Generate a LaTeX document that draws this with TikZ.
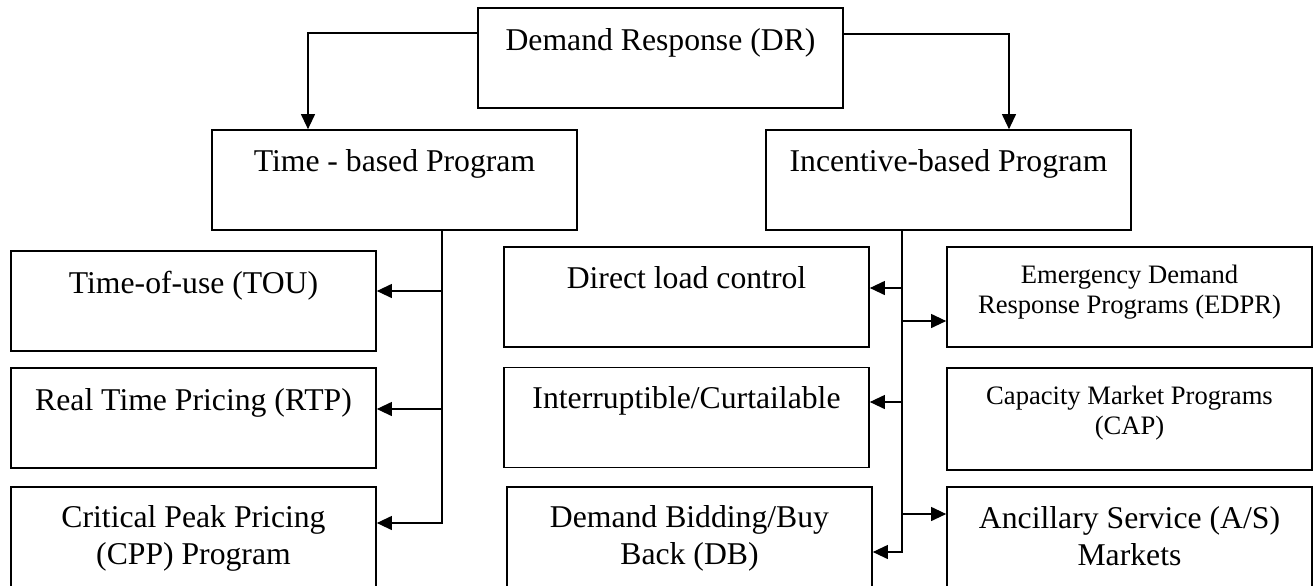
\documentclass[tikz,border=0pt]{standalone}
\usepackage{fontspec}
\setmainfont{Liberation Serif}
\usetikzlibrary{arrows.meta}
\tikzset{
  box/.style={draw=black, line width=0.85pt, inner sep=0pt, minimum width=182.5pt, minimum height=50pt},
  bigtxt/.style={anchor=base, inner sep=0pt, align=center, font=\fontsize{15.85}{18.5}\selectfont},
  smalltxt/.style={anchor=base, inner sep=0pt, align=center, font=\fontsize{13.3}{15}\selectfont},
  conn/.style={draw=black, line width=0.7pt},
  arr/.style={draw=black, line width=0.55pt, -{Triangle[length=7.5pt,width=7pt]}},
}
\begin{document}
\begin{tikzpicture}[x=0.5pt,y=-0.5pt]
\useasboundingbox (0,0) rectangle (1314,585);
\clip (0,0) rectangle (1314,585);
% boxes
\node[box] (DR) at (660.5,58) {};
\node[box] (Time) at (394.5,180) {};
\node[box] (Inc) at (948.5,180) {};
\node[box] (L1) at (193.5,301) {};
\node[box] (L2) at (193.5,418) {};
\node[box, minimum height=52pt] (L3) at (193.5,539) {};
\node[box] (M1) at (686.5,297) {};
\node[box] (M2) at (686.5,417.5) {};
\node[box, minimum height=52pt] (M3) at (689.5,539) {};
\node[box] (R1) at (1129.5,297) {};
\node[box, minimum height=51pt] (R2) at (1129.5,419) {};
\node[box, minimum height=52pt] (R3) at (1129.5,539) {};
% texts (multi-line nodes are anchored at the baseline of their last line)
\node[bigtxt] (tDR) at (660.5,50) {Demand Response (DR)};
\node[bigtxt] (tTime) at (394.5,171) {Time - based Program};
\node[bigtxt] (tInc) at (948.5,171) {Incentive-based Program};
\node[bigtxt] (tL1) at (193.5,293) {Time-of-use (TOU)};
\node[bigtxt] (tL2) at (193.5,410) {Real Time Pricing (RTP)};
\node[bigtxt] (tL3) at (193.5,564) {Critical Peak Pricing\\(CPP) Program};
\node[bigtxt] (tM1) at (686.5,288) {Direct load control};
\node[bigtxt] (tM2) at (686.5,408) {Interruptible/Curtailable};
\node[bigtxt] (tM3) at (689.5,564) {Demand Bidding/Buy\\Back (DB)};
\node[smalltxt] (tR1) at (1129.5,313) {Emergency Demand\\Response Programs (EDPR)};
\node[smalltxt] (tR2) at (1129.5,434) {Capacity Market Programs\\(CAP)};
\node[bigtxt] (tR3) at (1129.5,565) {Ancillary Service (A/S)\\Markets};
% junction coordinates
\coordinate (jl) at (308,33);
\coordinate (jr) at (1009,34);
\coordinate (t1) at (442,291);
\coordinate (t2) at (442,409);
\coordinate (t3) at (442,523);
\coordinate (i1) at (902,288);
\coordinate (i2) at (902,402);
\coordinate (i3) at (902,552);
\coordinate (i4) at (902,321);
\coordinate (i5) at (902,514);
% top connectors
\draw[arr] (DR.west |- jl) -| (Time.north -| jl);
\draw[arr] (DR.east |- jr) -| (Inc.north -| jr);
% time-based spine
\draw[conn] (Time.south -| t1) -- (t1);
\draw[arr] (t1) -- (L1.east |- t1);
\draw[arr] (t2) -- (L2.east |- t2);
\draw[arr] (t1) |- (L3.east |- t3);
% incentive spine
\draw[conn] (Inc.south -| i1) -- (i1);
\draw[arr] (i1) -- (M1.east |- i1);
\draw[arr] (i2) -- (M2.east |- i2);
\draw[arr] (i1) |- (M3.east |- i3);
\draw[arr] (i4) -- (R1.west |- i4);
\draw[arr] (i5) -- (R3.west |- i5);
\end{tikzpicture}
\end{document}
